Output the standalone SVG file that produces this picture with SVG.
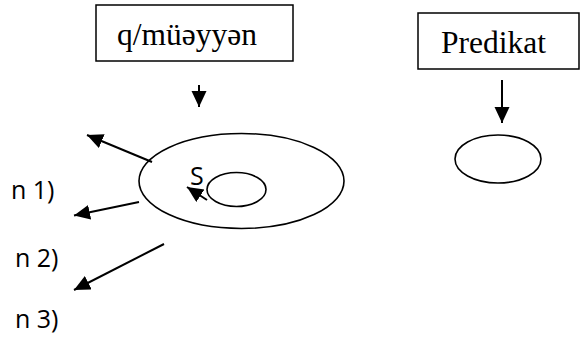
<svg xmlns="http://www.w3.org/2000/svg" width="581" height="338" viewBox="0 0 581 338">
<style>
.box{fill:#fff;stroke:#000;stroke-width:1.5}
.ell{fill:none;stroke:#000;stroke-width:1.6}
.serif{font-family:"Liberation Serif","DejaVu Serif","Times New Roman",serif;font-size:31.5px;fill:#000}
.sans{font-family:"Open Sans","Liberation Sans",sans-serif;font-size:25px;fill:#000}
.conn line{stroke:#000;stroke-width:2;marker-end:url(#ah)}
</style>
<defs>
<marker id="ah" markerUnits="userSpaceOnUse" markerWidth="18" markerHeight="16" refX="16" refY="7.5" orient="auto">
<path d="M0,0 L16,7.5 L0,15 Z" fill="#000"/>
</marker>
</defs>
<rect width="581" height="338" fill="#fff"/>
<g id="node-muayyan">
<rect class="box" x="96" y="5" width="197" height="56"/>
<text class="serif" x="117" y="45">q/müəyyən</text>
</g>
<g id="node-predikat">
<rect class="box" x="418" y="13" width="161" height="56"/>
<text class="serif" x="441" y="53">Predikat</text>
</g>
<g id="node-big-ellipse">
<ellipse class="ell" cx="241.5" cy="181" rx="102.5" ry="47.5"/>
</g>
<g id="node-inner-ellipse">
<ellipse class="ell" cx="236.5" cy="189.5" rx="29.5" ry="17"/>
</g>
<g id="node-pred-ellipse">
<ellipse class="ell" cx="498" cy="159" rx="43" ry="24"/>
</g>
<g id="label-s"><text class="sans" x="190" y="185">S</text></g>
<g id="label-n1"><text class="sans" x="11" y="199">n 1)</text></g>
<g id="label-n2"><text class="sans" x="15" y="267">n 2)</text></g>
<g id="label-n3"><text class="sans" x="15" y="328">n 3)</text></g>
<g id="connectors" class="conn">
<line x1="199" y1="85" x2="199" y2="107"/>
<line x1="502" y1="80" x2="502" y2="123"/>
<line x1="152" y1="162" x2="87" y2="135"/>
<line x1="139" y1="202" x2="74" y2="215.5"/>
<line x1="164" y1="244" x2="74" y2="290"/>
<line x1="207" y1="200" x2="187" y2="187"/>
</g>
</svg>
